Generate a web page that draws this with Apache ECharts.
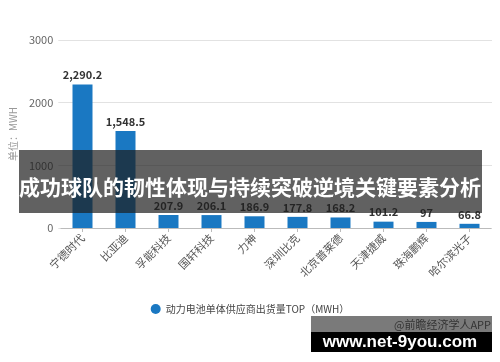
<!DOCTYPE html>
<html>
<head>
<meta charset="utf-8">
<script src="https://cdn.jsdelivr.net/npm/echarts@6/dist/echarts.min.js"></script>
<style>
html,body{margin:0;padding:0;background:#fff;}
#c{width:500px;height:362px;}
</style>
</head>
<body>
<div id="c"></div>
<script>
const categories = ['宁德时代','比亚迪','孚能科技','国轩科技','力神','深圳比克','北京普莱德','天津捷威','珠海鹏辉','哈尔滨光子'];
const values = [2290.2, 1548.5, 207.9, 206.1, 186.9, 177.8, 168.2, 101.2, 97, 66.8];
const yTicks = [0, 1000, 2000, 3000];
const seriesName = '动力电池单体供应商出货量TOP（MWH）';
const bannerText = '成功球队的韧性体现与持续突破逆境关键要素分析';
const sourceText = '@前瞻经济学人APP';
const siteText = 'www.net-9you.com';
const unitText = '单位：MWH';

function fmt(v){
  const parts = String(v).split('.');
  parts[0] = parts[0].replace(/\B(?=(\d{3})+(?!\d))/g, ',');
  return parts.join('.');
}

const FONT = '"Noto Sans CJK SC", "Noto Sans", sans-serif';
const chart = echarts.init(document.getElementById('c'), null, {renderer:'canvas'});
chart.setOption({
  animation:false,
  textStyle:{fontFamily:FONT},
  legend:{
    data:[seriesName], top:299, left:'center', icon:'circle',
    itemWidth:10, itemHeight:10, itemGap:6,
    textStyle:{fontSize:10, color:'#444', fontFamily:FONT}
  },
  grid:[
    {left:52, right:8, top:40, bottom:134},
    {left:61, right:9, top:40, bottom:134}
  ],
  xAxis:[
    {gridIndex:0, type:'category', data:categories, show:false},
    {gridIndex:1, type:'category', data:categories,
     axisLine:{show:true, lineStyle:{color:'#bbb'}},
     axisTick:{show:true, alignWithLabel:true, length:4, lineStyle:{color:'#bbb'}},
     axisLabel:{rotate:45, fontSize:11, color:'#555', margin:8, interval:0, fontFamily:FONT}}
  ],
  yAxis:[
    {gridIndex:0, type:'value', min:yTicks[0], max:yTicks[yTicks.length-1], interval:1000,
     name:unitText, nameLocation:'middle', nameGap:36, nameRotate:90,
     nameTextStyle:{fontSize:10, color:'#999', fontFamily:FONT},
     axisLine:{show:false}, axisTick:{show:false},
     axisLabel:{fontSize:11, color:'#666', margin:5, fontFamily:FONT, formatter:v=>String(v)},
     splitLine:{lineStyle:{color:'#e2e2e2'}}},
    {gridIndex:1, type:'value', min:yTicks[0], max:yTicks[yTicks.length-1], interval:1000, show:false}
  ],
  series:[{
    name:seriesName, type:'bar', xAxisIndex:1, yAxisIndex:1,
    data:values, barWidth:20,
    itemStyle:{color:'#1a78c2'},
    label:{show:true, position:'top', distance:4, fontSize:11, fontWeight:'bold', color:'#333',
           fontFamily:FONT, formatter:p=>fmt(p.value)}
  }],
  graphic:[
    {type:'rect', shape:{x:19, y:150, width:463, height:63}, style:{fill:'rgba(30,30,30,0.7)'}, z:100},
    {type:'text', x:250, y:187, z:101,
     style:{text:bannerText, fill:'#fff', font:'bold 21px "Noto Sans CJK SC", sans-serif',
            textAlign:'center', textVerticalAlign:'middle'}},
    {type:'rect', shape:{x:311, y:316, width:181, height:16}, style:{fill:'rgba(0,0,0,0.52)'}, z:100},
    {type:'text', x:491, y:325, z:101,
     style:{text:sourceText, fill:'#333', font:'11px "Noto Sans CJK SC", sans-serif',
            textAlign:'right', textVerticalAlign:'middle'}},
    {type:'rect', shape:{x:311, y:332, width:181, height:20}, style:{fill:'#000'}, z:100},
    {type:'text', x:400, y:342, z:101,
     style:{text:siteText, fill:'#fff', font:'bold 17px "Liberation Sans", sans-serif',
            textAlign:'center', textVerticalAlign:'middle'}}
  ]
});
</script>
</body>
</html>
